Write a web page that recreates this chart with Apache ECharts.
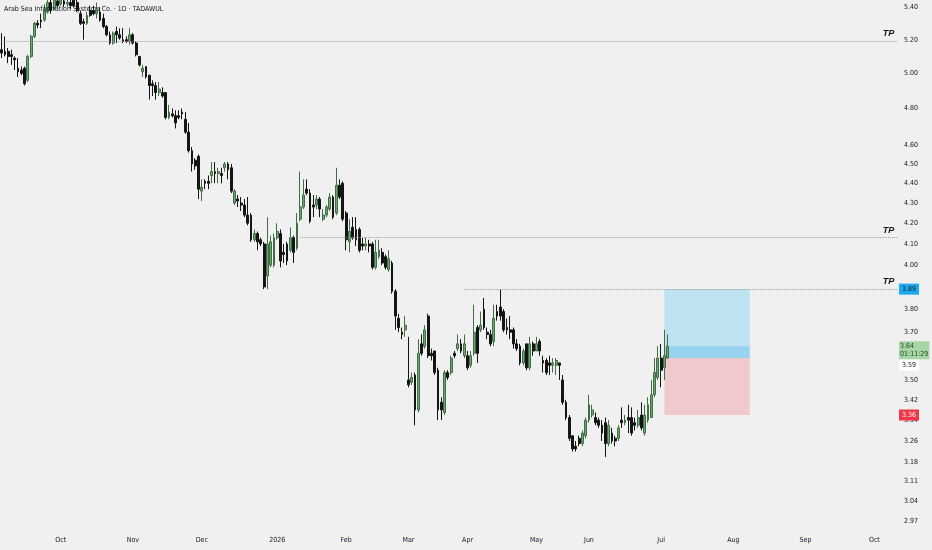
<!DOCTYPE html>
<html lang="en">
<head>
<meta charset="UTF-8">
<title>Arab Sea Information Systems Co. · 1D · TADAWUL</title>
<script src="https://cdn.jsdelivr.net/npm/echarts@6/dist/echarts.min.js"></script>
<style>
    html, body { margin: 0; padding: 0; background: #f0f0f0; }
    #chartmain { width: 932px; height: 550px; }
</style>
</head>
<body>
<div id="chartmain"></div>
<script>
// trading calendar: Sun-Thu, market holidays taken out
var firstDay = '2025-09-04';
var lastDay = '2026-10-12';
var holidays = ['2025-09-23', '2026-02-22',
    '2026-03-22', '2026-03-23', '2026-03-24', '2026-03-25', '2026-03-26', '2026-04-02',
    '2026-05-24', '2026-05-25', '2026-05-26', '2026-05-27', '2026-05-28', '2026-09-23'];
var monthNames = ['Jan', 'Feb', 'Mar', 'Apr', 'May', 'Jun', 'Jul', 'Aug', 'Sep', 'Oct', 'Nov', 'Dec'];

// daily candles [open, close, low, high]
var ohlc = [
    [5.14,5.12,5.09,5.24],[5.13,5.11,5.10,5.22],[5.13,5.10,5.06,5.15],[5.11,5.10,5.05,5.14],[5.09,5.08,5.02,5.10],
    [5.03,5.01,4.98,5.09],[5.02,5.00,4.99,5.04],[5.03,4.94,4.93,5.04],[4.96,5.10,4.95,5.11],[5.10,5.22,5.09,5.23],
    [5.22,5.30,5.21,5.31],[5.30,5.29,5.27,5.32],[5.32,5.31,5.27,5.36],[5.32,5.38,5.31,5.42],[5.37,5.43,5.36,5.47],
    [5.43,5.38,5.36,5.46],[5.39,5.45,5.38,5.47],[5.44,5.41,5.40,5.47],[5.42,5.45,5.41,5.47],[5.44,5.42,5.40,5.47],
    [5.42,5.43,5.40,5.46],[5.43,5.41,5.39,5.46],[5.45,5.41,5.40,5.47],[5.43,5.38,5.37,5.45],[5.36,5.30,5.29,5.38],
    [5.31,5.30,5.20,5.33],[5.30,5.35,5.29,5.37],[5.38,5.35,5.34,5.41],[5.38,5.36,5.35,5.41],[5.36,5.38,5.33,5.43],
    [5.37,5.32,5.31,5.40],[5.33,5.28,5.27,5.36],[5.28,5.23,5.22,5.29],[5.23,5.18,5.17,5.25],[5.18,5.24,5.17,5.25],
    [5.25,5.23,5.18,5.28],[5.23,5.21,5.20,5.27],[5.20,5.19,5.18,5.27],[5.20,5.19,5.18,5.22],[5.19,5.23,5.17,5.27],
    [5.23,5.18,5.17,5.24],[5.18,5.11,5.10,5.19],[5.10,5.05,5.04,5.10],[5.01,5.03,4.98,5.05],[5.04,4.98,4.97,5.04],
    [4.99,4.93,4.85,4.99],[4.94,4.93,4.87,4.96],[4.93,4.89,4.85,4.95],[4.89,4.91,4.87,4.95],[4.89,4.87,4.86,4.92],
    [4.89,4.75,4.74,4.89],[4.75,4.78,4.74,4.82],[4.77,4.76,4.75,4.80],[4.76,4.72,4.69,4.79],[4.76,4.75,4.74,4.79],
    [4.78,4.77,4.74,4.80],[4.74,4.67,4.66,4.78],[4.67,4.57,4.56,4.72],[4.57,4.50,4.46,4.59],[4.52,4.49,4.47,4.53],
    [4.54,4.37,4.32,4.55],[4.36,4.38,4.31,4.42],[4.41,4.40,4.37,4.42],[4.41,4.40,4.37,4.44],[4.44,4.46,4.40,4.51],
    [4.46,4.45,4.40,4.51],[4.45,4.46,4.40,4.48],[4.45,4.44,4.40,4.48],[4.48,4.50,4.46,4.51],[4.50,4.47,4.42,4.51],
    [4.48,4.36,4.35,4.50],[4.30,4.36,4.29,4.37],[4.32,4.31,4.28,4.34],[4.30,4.29,4.26,4.33],[4.29,4.24,4.23,4.32],
    [4.24,4.20,4.19,4.33],[4.24,4.12,4.11,4.25],[4.12,4.15,4.11,4.17],[4.15,4.11,4.07,4.16],[4.12,4.10,4.09,4.13],
    [4.10,3.90,3.89,4.11],[3.95,4.10,3.89,4.23],[4.00,4.11,3.99,4.14],[4.00,4.13,3.99,4.15],[4.13,4.16,4.12,4.20],
    [4.15,4.02,3.99,4.17],[4.06,4.05,4.01,4.10],[4.10,4.02,4.00,4.11],[4.07,4.13,4.06,4.18],[4.13,4.06,4.01,4.14],
    [4.08,4.20,4.07,4.25],[4.22,4.28,4.21,4.46],[4.28,4.34,4.27,4.42],[4.37,4.35,4.34,4.42],[4.35,4.21,4.20,4.37],
    [4.29,4.28,4.23,4.34],[4.29,4.32,4.27,4.34],[4.32,4.27,4.23,4.33],[4.22,4.24,4.21,4.27],[4.24,4.28,4.23,4.29],
    [4.27,4.33,4.26,4.35],[4.33,4.23,4.22,4.34],[4.25,4.39,4.24,4.48],[4.39,4.33,4.32,4.42],[4.40,4.22,4.21,4.41],
    [4.25,4.12,4.07,4.26],[4.11,4.16,4.06,4.22],[4.18,4.13,4.12,4.23],[4.17,4.12,4.09,4.23],[4.17,4.07,4.06,4.18],
    [4.10,4.09,4.07,4.13],[4.09,4.10,4.07,4.13],[4.10,4.09,4.06,4.12],[4.10,3.99,3.98,4.11],[3.99,4.06,3.98,4.12],
    [4.04,4.07,4.03,4.12],[4.06,4.01,4.00,4.08],[4.04,3.99,3.98,4.05],[3.98,4.03,3.97,4.07],[4.01,3.88,3.87,4.02],
    [3.88,3.77,3.71,3.89],[3.76,3.72,3.70,3.78],[3.70,3.69,3.67,3.72],[3.71,3.73,3.68,3.77],[3.50,3.48,3.47,3.68],
    [3.49,3.51,3.48,3.53],[3.52,3.38,3.32,3.53],[3.38,3.61,3.37,3.67],[3.65,3.61,3.60,3.69],[3.64,3.71,3.63,3.73],
    [3.77,3.60,3.59,3.78],[3.61,3.60,3.58,3.63],[3.62,3.53,3.52,3.62],[3.54,3.38,3.34,3.55],[3.41,3.38,3.34,3.43],
    [3.37,3.53,3.36,3.54],[3.53,3.51,3.50,3.54],[3.53,3.59,3.52,3.60],[3.61,3.60,3.59,3.62],[3.63,3.65,3.62,3.69],
    [3.65,3.62,3.61,3.67],[3.60,3.65,3.59,3.69],[3.60,3.55,3.54,3.62],[3.56,3.60,3.55,3.62],[3.61,3.70,3.60,3.82],
    [3.72,3.61,3.57,3.73],[3.71,3.73,3.70,3.79],[3.80,3.72,3.71,3.85],[3.70,3.69,3.67,3.72],[3.69,3.65,3.64,3.71],
    [3.66,3.76,3.64,3.82],[3.79,3.77,3.75,3.82],[3.81,3.77,3.75,3.89],[3.79,3.71,3.70,3.80],[3.72,3.71,3.69,3.76],
    [3.71,3.70,3.67,3.77],[3.71,3.65,3.63,3.72],[3.65,3.63,3.62,3.67],[3.64,3.57,3.56,3.65],[3.57,3.62,3.56,3.63],
    [3.65,3.55,3.54,3.65],[3.55,3.65,3.54,3.68],[3.65,3.62,3.60,3.66],[3.62,3.65,3.62,3.68],[3.66,3.62,3.60,3.67],
    [3.58,3.57,3.53,3.60],[3.58,3.53,3.52,3.59],[3.57,3.56,3.52,3.60],[3.56,3.57,3.53,3.59],[3.56,3.58,3.52,3.59],
    [3.57,3.56,3.50,3.57],[3.50,3.41,3.40,3.52],[3.41,3.35,3.34,3.42],[3.35,3.27,3.26,3.36],[3.28,3.23,3.22,3.28],
    [3.24,3.23,3.22,3.26],[3.27,3.25,3.24,3.28],[3.25,3.29,3.24,3.30],[3.28,3.34,3.27,3.35],[3.34,3.40,3.33,3.44],
    [3.36,3.38,3.35,3.40],[3.35,3.33,3.32,3.37],[3.34,3.32,3.31,3.35],[3.32,3.29,3.26,3.34],[3.33,3.25,3.20,3.35],
    [3.25,3.32,3.24,3.34],[3.29,3.26,3.25,3.31],[3.27,3.26,3.24,3.28],[3.27,3.31,3.26,3.32],[3.34,3.33,3.31,3.39],
    [3.33,3.34,3.32,3.36],[3.35,3.34,3.29,3.40],[3.35,3.29,3.28,3.39],[3.33,3.32,3.30,3.35],[3.32,3.35,3.31,3.38],
    [3.36,3.31,3.30,3.41],[3.29,3.36,3.28,3.40],[3.34,3.40,3.33,3.43],[3.35,3.44,3.35,3.50],[3.44,3.53,3.43,3.59],
    [3.51,3.59,3.50,3.64],[3.59,3.54,3.47,3.65],[3.55,3.60,3.50,3.71],[3.59,3.64,3.59,3.69]
];

// price scale labels
var priceTicks = [5.40, 5.20, 5.00, 4.80, 4.60, 4.50, 4.40, 4.30, 4.20, 4.10, 4.00,
    3.80, 3.70, 3.50, 3.42, 3.34, 3.26, 3.18, 3.11, 3.04, 2.97];

// take-profit lines and the bar each one starts from
var tpLevels = [5.19, 4.13, 3.89];
var tpFrom = [0, 91, 141];

// long position tool
var entry = 3.59, target = 3.89, stop = 3.36, lastPrice = 3.64;
var boxFrom = 202, boxTo = 228;
var countdown = '01:11:29';

var font = "'Liberation Sans Narrow', 'DejaVu Sans Condensed', 'Liberation Sans', sans-serif";
var hidden = {color: 'rgba(0,0,0,0)', width: 0};

function buildDays() {
    var out = [];
    var d = new Date(firstDay + 'T00:00:00Z');
    var end = new Date(lastDay + 'T00:00:00Z');
    while (d <= end) {
        var s = d.toISOString().slice(0, 10);
        var wd = d.getUTCDay();
        if (wd !== 5 && wd !== 6 && holidays.indexOf(s) < 0) out.push(s);
        d.setUTCDate(d.getUTCDate() + 1);
    }
    return out;
}

var days = buildDays();
var lastCat = days[days.length - 1];

var lines = [];
priceTicks.forEach(function (v) {
    lines.push({
        yAxis: v,
        lineStyle: hidden,
        label: {formatter: v.toFixed(2), color: '#131722', fontSize: 7, fontFamily: font, distance: 5}
    });
});
tpLevels.forEach(function (v, k) {
    lines.push([
        {
            coord: [days[tpFrom[k]], v],
            lineStyle: {type: 'dotted', color: '#9a9a9a', width: 1},
            label: {
                position: 'insideEndTop', formatter: 'TP', color: '#131722', fontSize: 9,
                fontStyle: 'italic', fontWeight: 'bold', fontFamily: 'Liberation Sans, sans-serif', distance: 3
            }
        },
        {coord: [lastCat, v]}
    ]);
});
// price boxes on the scale
lines.push({
    yAxis: target, lineStyle: hidden,
    label: {formatter: target.toFixed(2), backgroundColor: '#1eaaf1', color: '#131722',
        fontSize: 7, fontFamily: font, padding: [2, 3], distance: 0}
});
lines.push({
    yAxis: entry, lineStyle: hidden,
    label: {formatter: entry.toFixed(2), backgroundColor: '#ffffff', color: '#131722',
        fontSize: 7, fontFamily: font, padding: [2, 3], distance: 0, offset: [0, 7]}
});
lines.push({
    yAxis: lastPrice, lineStyle: hidden,
    label: {formatter: lastPrice.toFixed(2) + '\n' + countdown, backgroundColor: '#a8d5a5', color: '#1f4a23',
        fontSize: 7, lineHeight: 8, fontFamily: font, padding: [1, 1], distance: 0, offset: [0, 4]}
});
lines.push({
    yAxis: stop, lineStyle: hidden,
    label: {formatter: stop.toFixed(2), backgroundColor: '#f23645', color: '#ffffff',
        fontSize: 7, fontFamily: font, padding: [2, 3], distance: 0}
});

var option = {
    backgroundColor: '#f0f0f0',
    animation: false,
    title: {
        text: 'Arab Sea Information Systems Co. · 1D · TADAWUL',
        left: 4, top: 6, padding: 0,
        textStyle: {fontSize: 7, fontWeight: 'normal', color: '#131722', fontFamily: font}
    },
    grid: {left: 0, right: 33, top: 0, bottom: 22},
    xAxis: {
        type: 'category',
        data: days,
        axisLine: {show: false},
        axisTick: {show: false},
        splitLine: {show: false},
        axisLabel: {
            color: '#131722', fontSize: 7, fontFamily: font, margin: 9,
            interval: function (idx, val) {
                return idx > 0 && val.slice(5, 7) !== days[idx - 1].slice(5, 7);
            },
            formatter: function (val) {
                var m = +val.slice(5, 7);
                return m === 1 ? val.slice(0, 4) : monthNames[m - 1];
            }
        }
    },
    yAxis: {
        type: 'log',
        min: 2.946,
        max: 5.446,
        show: false
    },
    series: [{
        type: 'candlestick',
        data: ohlc,
        barWidth: 2.3,
        itemStyle: {
            color: '#6fa673', color0: '#151515',
            borderColor: '#3f6d44', borderColor0: '#151515', borderWidth: 1
        },
        markArea: {
            silent: true,
            data: [
                [{coord: [days[boxFrom], entry], itemStyle: {color: '#bee3f0'}}, {coord: [days[boxTo], target]}],
                [{coord: [days[boxFrom], stop], itemStyle: {color: '#f0c9cc'}}, {coord: [days[boxTo], entry]}],
                [{coord: [days[boxFrom], entry], itemStyle: {color: '#98d4f0'}}, {coord: [days[boxTo], lastPrice]}]
            ]
        },
        markLine: {
            silent: true,
            symbol: ['none', 'none'],
            label: {position: 'end'},
            data: lines
        }
    }]
};

var myChart = echarts.init(document.getElementById('chartmain'));
myChart.setOption(option);
</script>
</body>
</html>
